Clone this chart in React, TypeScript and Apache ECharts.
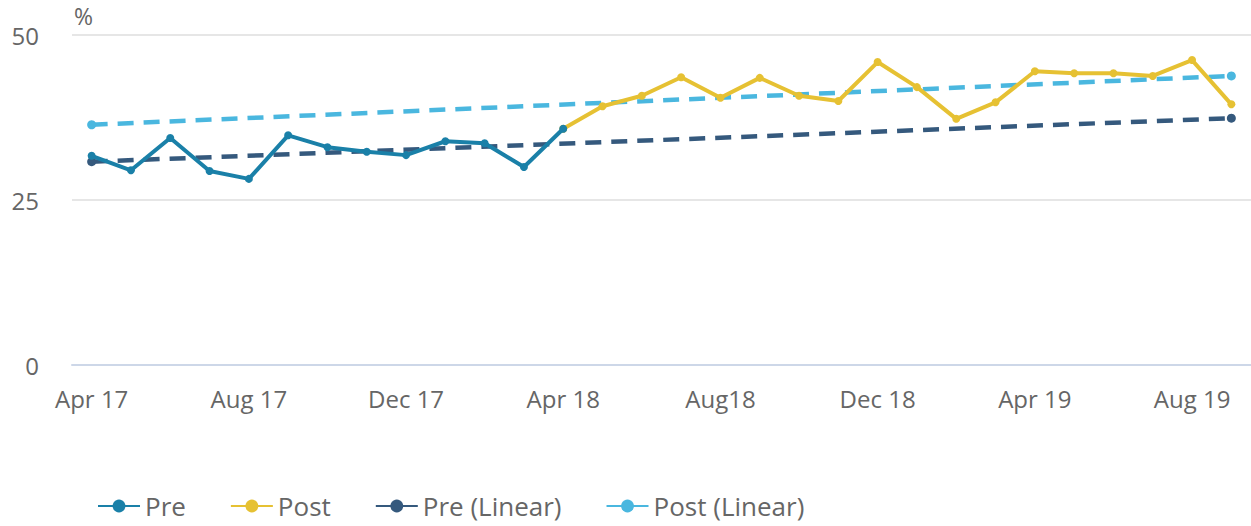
import React, { useEffect, useRef } from "react";
import * as echarts from "echarts";

const months = [
  "Apr 17", "May 17", "Jun 17", "Jul 17", "Aug 17", "Sep 17", "Oct 17", "Nov 17", "Dec 17",
  "Jan 18", "Feb 18", "Mar 18", "Apr 18", "May 18", "Jun 18", "Jul 18", "Aug18", "Sep 18",
  "Oct 18", "Nov 18", "Dec 18", "Jan 19", "Feb 19", "Mar 19", "Apr 19", "May 19", "Jun 19",
  "Jul 19", "Aug 19", "Sep 19",
];

const preValues = [31.7, 29.5, 34.4, 29.4, 28.2, 34.8, 33.0, 32.3, 31.8, 33.9, 33.6, 30.0, 35.8];
const postValues = [35.8, 39.2, 40.8, 43.6, 40.5, 43.5, 40.8, 40.0, 45.9, 42.1, 37.3, 39.8, 44.5, 44.2, 44.2, 43.8, 46.2, 39.5];
const preLinearEnds = [30.8, 37.4];
const postLinearEnds = [36.4, 43.8];
const yTicks = [0, 25, 50];

const COLORS = {
  pre: "#1a80a8",
  post: "#e6c133",
  preLin: "#35597d",
  postLin: "#4ab7df",
};

const FONT = "Open Sans";
const TEXT = "#666666";

function buildOption() {
  const n = months.length;
  const pre = months.map((_, i) => (i < preValues.length ? preValues[i] : null));
  const postStart = n - postValues.length;
  const post = months.map((_, i) => (i >= postStart ? postValues[i - postStart] : null));
  const preLin = months.map((_, i) => (i === 0 ? preLinearEnds[0] : i === n - 1 ? preLinearEnds[1] : null));
  const postLin = months.map((_, i) => (i === 0 ? postLinearEnds[0] : i === n - 1 ? postLinearEnds[1] : null));

  return {
    animation: false,
    textStyle: { fontFamily: FONT },
    grid: { left: 72, top: 35, width: 1184, height: 330, containLabel: false },
    graphic: [
      {
        type: "text",
        left: 74,
        top: 4,
        style: { text: "%", fontSize: 23, fill: TEXT, fontFamily: FONT },
      },
    ],
    legend: {
      left: 95,
      top: 490,
      padding: 2,
      itemWidth: 42,
      itemHeight: 16,
      itemGap: 44,
      textStyle: { fontSize: 26, color: TEXT, fontFamily: FONT, lineHeight: 28 },
      data: ["Pre", "Post", "Pre (Linear)", "Post (Linear)"],
    },
    xAxis: {
      type: "category",
      data: months,
      boundaryGap: true,
      axisLine: { lineStyle: { color: "#cdd7e8", width: 2 } },
      axisTick: {
        alignWithLabel: true,
        interval: 3,
        length: 20,
        lineStyle: { color: "#cdd7e8", width: 2 },
      },
      axisLabel: {
        interval: 3,
        margin: 21,
        fontSize: 24,
        color: TEXT,
        fontFamily: FONT,
      },
      splitLine: { show: false },
    },
    yAxis: {
      type: "value",
      min: yTicks[0],
      max: yTicks[yTicks.length - 1],
      interval: 25,
      axisLine: { show: false },
      axisTick: { show: false },
      axisLabel: { fontSize: 24, color: TEXT, margin: 33, fontFamily: FONT },
      splitLine: { lineStyle: { color: "#e6e6e6", width: 2 } },
    },
    series: [
      {
        name: "Pre",
        type: "line",
        data: pre,
        color: COLORS.pre,
        lineStyle: { width: 4, color: COLORS.pre },
        symbol: "circle",
        symbolSize: 8,
        itemStyle: { color: COLORS.pre },
        z: 4,
      },
      {
        name: "Post",
        type: "line",
        data: post,
        color: COLORS.post,
        lineStyle: { width: 4, color: COLORS.post },
        symbol: "circle",
        symbolSize: 8,
        itemStyle: { color: COLORS.post },
        z: 3,
      },
      {
        name: "Pre (Linear)",
        type: "line",
        data: preLin,
        connectNulls: true,
        color: COLORS.preLin,
        lineStyle: { width: 4.5, color: COLORS.preLin, type: [16, 10] },
        symbol: "circle",
        symbolSize: 9,
        itemStyle: { color: COLORS.preLin },
        z: 2,
      },
      {
        name: "Post (Linear)",
        type: "line",
        data: postLin,
        connectNulls: true,
        color: COLORS.postLin,
        lineStyle: { width: 4.5, color: COLORS.postLin, type: [16, 10] },
        symbol: "circle",
        symbolSize: 9,
        itemStyle: { color: COLORS.postLin },
        z: 2,
      },
    ],
  };
}

export default function App() {
  const ref = useRef<HTMLDivElement>(null);
  useEffect(() => {
    if (!ref.current) return;
    const chart = echarts.init(ref.current, null, { renderer: "svg" });
    chart.setOption(buildOption() as any);
    return () => chart.dispose();
  }, []);
  return <div ref={ref} style={{ width: 1251, height: 526, position: "absolute", left: 0, top: 0 }} />;
}
